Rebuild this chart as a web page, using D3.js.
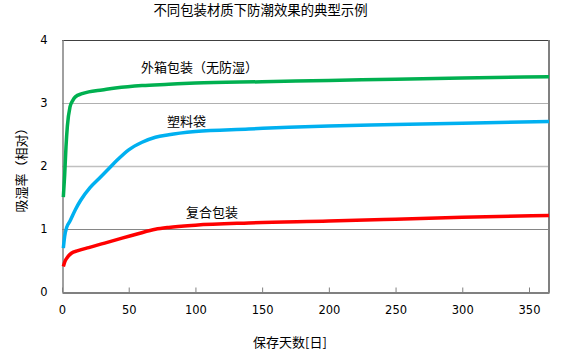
<!DOCTYPE html>
<html><head><meta charset="utf-8">
<script src="https://cdn.jsdelivr.net/npm/d3@7"></script>
<style>
body{margin:0;background:#fff;}
svg{display:block;}
.cjk{font-family:"Noto Sans CJK SC","Noto Sans CJK JP",sans-serif;}
</style></head><body>
<svg id="c" width="577" height="361"></svg>
<script>
const title = "不同包装材质下防潮效果的典型示例";
const xTitle = "保存天数[日]";
const yTitle = "吸湿率（相对）";
const xTicks = [0,50,100,150,200,250,300,350];
const yTicks = [0,1,2,3,4];
const seriesNames = ["外箱包装（无防湿）","塑料袋","复合包装"];
const seriesColors = ["#00b050","#00b0f0","#ff0000"];
const boxDays = [1,2,3,4,6,8,10,15,20,30,40,60,80,100,150,200,250,300,365];
const boxVals = [1.5,1.85,2.3,2.62,2.93,3.03,3.09,3.14,3.17,3.2,3.23,3.27,3.29,3.31,3.33,3.35,3.37,3.39,3.41];
const bagDays = [1,2,3.5,6,10,14,21,28,35,41,50,60,70,80,100,140,170,200,250,300,365];
const bagVals = [0.69,0.88,1.02,1.12,1.3,1.45,1.65,1.8,1.95,2.08,2.25,2.37,2.45,2.49,2.54,2.58,2.61,2.63,2.65,2.67,2.70];
const compDays = [1,2,3.5,7,12,20,32,45,57,70,80,100,140,200,250,300,365];
const compVals = [0.4,0.47,0.53,0.61,0.65,0.7,0.77,0.85,0.92,0.99,1.02,1.055,1.09,1.12,1.15,1.18,1.21];

const svg = d3.select("#c");
const L=62, R=549, T=39.5, B=291.7;
const x = d3.scaleLinear().domain([0,365]).range([L,R]);
const y = d3.scaleLinear().domain([0,4]).range([B,T]);

// gridlines
const gridColor = {1:"#868686",2:"#c0c0c0",3:"#b0b0b0"};
svg.append("g").selectAll("line").data(yTicks.filter(d=>d>0&&d<4)).join("line")
  .attr("x1",L).attr("x2",R).attr("y1",d=>Math.round(y(d))+0.5).attr("y2",d=>Math.round(y(d))+0.5)
  .attr("stroke",d=>gridColor[d]).attr("stroke-width",d=>d===2?1.5:1);

// frame
svg.append("line").attr("x1",L).attr("x2",R+1).attr("y1",40.5).attr("y2",40.5).attr("stroke","#404040");
svg.append("line").attr("x1",R).attr("x2",R).attr("y1",40).attr("y2",B+1).attr("stroke","#808080").attr("stroke-width",2);

// x axis
const xa = svg.append("g").attr("transform",`translate(0,${Math.round(B)+0.5})`)
  .call(d3.axisBottom(x).tickValues(xTicks).tickSize(-5).tickPadding(13).tickSizeOuter(0));
xa.select(".domain").attr("stroke","#808080").attr("stroke-width",2);
xa.selectAll(".tick line").attr("stroke","#808080");
xa.selectAll("text").attr("font-family","DejaVu Sans").attr("font-size","11.5px").attr("fill","#000");

// y axis
const ya = svg.append("g").attr("transform",`translate(${L+0.5},0)`)
  .call(d3.axisLeft(y).tickValues(yTicks).tickFormat(d3.format("d")).tickSize(0).tickPadding(15));
ya.select(".domain").attr("stroke","#808080").attr("stroke-width",1.5);
ya.selectAll("text").attr("font-family","DejaVu Sans").attr("font-size","11.5px").attr("fill","#000");

// lines
const line = d3.line().x(d=>x(d[0])).y(d=>y(d[1])).curve(d3.curveMonotoneX);
const series = [
  {days:boxDays, vals:boxVals},
  {days:bagDays, vals:bagVals},
  {days:compDays, vals:compVals}
];
series.forEach((s,i)=>{
  svg.append("path").datum(s.days.map((d,j)=>[d,s.vals[j]]))
    .attr("d",line).attr("fill","none").attr("stroke",seriesColors[i])
    .attr("stroke-width",3.5).attr("stroke-linejoin","round");
});

// series labels
const labelPos = [[141,72],[167,125.5],[186,216.5]];
seriesNames.forEach((n,i)=>{
  svg.append("text").attr("class","cjk").attr("x",labelPos[i][0]).attr("y",labelPos[i][1])
    .attr("font-size","13px").attr("fill","#000").text(n);
});

// titles
svg.append("text").attr("class","cjk").attr("x",260.5).attr("y",14.5).attr("text-anchor","middle")
  .attr("font-size","13.4px").attr("fill","#000").text(title);
svg.append("text").attr("class","cjk").attr("x",290).attr("y",346.5).attr("text-anchor","middle")
  .attr("font-size","13px").attr("fill","#000").text(xTitle);
svg.append("text").attr("class","cjk").attr("transform","translate(26,167) rotate(-90)")
  .attr("text-anchor","middle").attr("font-size","13px").attr("fill","#000").text(yTitle);
</script>
</body></html>
